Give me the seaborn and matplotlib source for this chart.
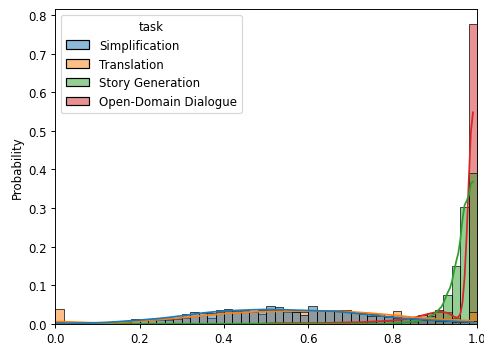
import matplotlib
matplotlib.use("Agg")
import matplotlib.pyplot as plt
import numpy as np
import pandas as pd
import seaborn as sns

TASKS = ["Simplification", "Translation", "Story Generation", "Open-Domain Dialogue"]
N_BINS = 50

# probability in each 0.02-wide score bin (bin 0 = [0, 0.02))
SIMPLIFICATION = [
    0.005, 0.002, 0.001, 0.001, 0.002, 0.002, 0.003, 0.004, 0.006, 0.013,
    0.010, 0.012, 0.012, 0.013, 0.015, 0.025, 0.030, 0.027, 0.028, 0.035,
    0.037, 0.033, 0.035, 0.030, 0.036, 0.046, 0.042, 0.032, 0.031, 0.022,
    0.046, 0.034, 0.033, 0.032, 0.030, 0.028, 0.025, 0.021, 0.019, 0.017,
    0.015, 0.014, 0.012, 0.010, 0.009, 0.008, 0.007, 0.006, 0.006, 0.008,
]
TRANSLATION = [
    0.038, 0.001, 0.001, 0.001, 0.001, 0.001, 0.001, 0.001, 0.003, 0.008,
    0.009, 0.010, 0.011, 0.011, 0.013, 0.016, 0.020, 0.022, 0.016, 0.030,
    0.032, 0.030, 0.032, 0.030, 0.026, 0.034, 0.036, 0.031, 0.031, 0.030,
    0.035, 0.034, 0.034, 0.035, 0.034, 0.031, 0.028, 0.026, 0.024, 0.021,
    0.033, 0.016, 0.014, 0.012, 0.010, 0.009, 0.008, 0.007, 0.008, 0.031,
]
STORY_GENERATION = [
    0.001, 0.000, 0.000, 0.000, 0.000, 0.000, 0.000, 0.000, 0.000, 0.000,
    0.000, 0.000, 0.000, 0.000, 0.000, 0.000, 0.000, 0.000, 0.000, 0.000,
    0.000, 0.000, 0.000, 0.000, 0.000, 0.001, 0.000, 0.000, 0.000, 0.000,
    0.000, 0.000, 0.000, 0.000, 0.000, 0.001, 0.000, 0.000, 0.000, 0.000,
    0.003, 0.004, 0.006, 0.010, 0.020, 0.035, 0.076, 0.150, 0.302, 0.392,
]
DIALOGUE = [
    0.000, 0.000, 0.000, 0.000, 0.000, 0.000, 0.000, 0.000, 0.000, 0.000,
    0.000, 0.000, 0.000, 0.000, 0.000, 0.000, 0.000, 0.000, 0.000, 0.000,
    0.000, 0.000, 0.000, 0.000, 0.000, 0.002, 0.002, 0.002, 0.002, 0.002,
    0.002, 0.002, 0.003, 0.003, 0.004, 0.004, 0.005, 0.006, 0.007, 0.008,
    0.010, 0.012, 0.016, 0.022, 0.028, 0.032, 0.030, 0.015, 0.004, 0.775,
]
# scored samples per task; only sets how smooth each KDE curve is
SAMPLE_SIZES = [1000, 1000, 2500, 15000]

DPI = 85


def build_frame() -> pd.DataFrame:
    edges = np.linspace(0, 1, N_BINS + 1)
    scores = (edges[:-1] + edges[1:]) / 2
    scores[0] = 0.0
    parts = []
    for task, probs, size in zip(TASKS, [SIMPLIFICATION, TRANSLATION, STORY_GENERATION, DIALOGUE], SAMPLE_SIZES):
        counts = np.rint(np.asarray(probs) * size).astype(int)
        parts.append(pd.DataFrame({"score": np.repeat(scores, counts), "task": task}))
    return pd.concat(parts, ignore_index=True)


def main() -> None:
    frame = build_frame()
    fig, ax = plt.subplots(figsize=(484 / DPI, 349 / DPI), dpi=DPI)
    sns.histplot(
        data=frame,
        x="score",
        hue="task",
        hue_order=TASKS,
        stat="probability",
        common_norm=False,
        bins=N_BINS,
        binrange=(0, 1),
        kde=True,
        ax=ax,
    )
    ax.set_xlim(0, 1)
    ax.set_xlabel("")
    ax.set_ylabel("Probability")
    sns.move_legend(ax, "upper left")
    fig.subplots_adjust(left=0.114, right=0.986, top=0.971, bottom=0.069)
    fig.savefig("out.png", dpi=DPI)


if __name__ == "__main__":
    main()
